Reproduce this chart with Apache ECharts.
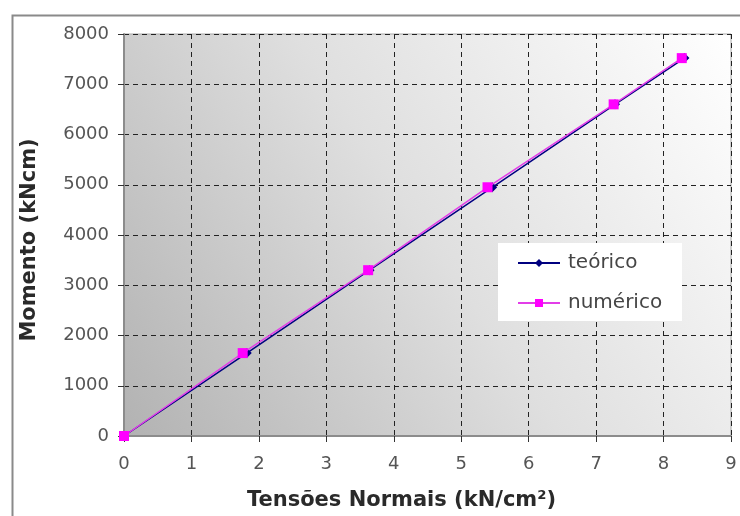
<!DOCTYPE html>
<html>
<head>
<meta charset="utf-8">
<script src="https://cdn.jsdelivr.net/npm/echarts@6/dist/echarts.min.js"></script>
<style>
  html, body { margin: 0; padding: 0; background: #ffffff; }
  #chart { width: 740px; height: 516px; }
</style>
</head>
<body>
<div id="chart"></div>
<script>
// Tensão normal (kN/cm²) e momento (kNcm)
const teoricoX = [0, 1.82, 3.64, 5.46, 7.28, 8.31];
const teoricoY = [0, 1650, 3300, 4950, 6600, 7520];
const numericoX = [0, 1.76, 3.62, 5.39, 7.26, 8.27];
const numericoY = [0, 1650, 3300, 4950, 6600, 7520];

const seriesNames = ['teórico', 'numérico'];
const xAxisTitle = 'Tensões Normais (kN/cm²)';
const yAxisTitle = 'Momento (kNcm)';

const pairs = (xs, ys) => xs.map((x, i) => [x, ys[i]]);

const chart = echarts.init(document.getElementById('chart'), null, { renderer: 'canvas' });

const FONT = 'DejaVu Sans, Verdana, sans-serif';
const labelFont = { fontFamily: FONT, fontSize: 18, color: '#555555' };
const titleFont = { fontFamily: FONT, fontSize: 21, fontWeight: 'bold', color: '#2a2a2a' };

chart.setOption({
  animation: false,
  backgroundColor: '#ffffff',
  graphic: [
    {
      type: 'rect',
      shape: { x: 12.5, y: 15.5, width: 740, height: 520 },
      style: { fill: 'none', stroke: '#8a8a8a', lineWidth: 2 },
      silent: true
    },
    {
      // legend frame
      type: 'rect',
      z: 10,
      shape: { x: 498, y: 243, width: 184, height: 78 },
      style: { fill: '#ffffff', stroke: null },
      silent: true
    }
  ],
  grid: {
    left: 124, right: 9, top: 34, bottom: 79,
    show: true,
    borderColor: '#a8a8a8',
    borderWidth: 1,
    backgroundColor: new echarts.graphic.LinearGradient(0, 1, 1, 0, [
      { offset: 0, color: '#b2b2b2' },
      { offset: 0.5, color: '#dfdfdf' },
      { offset: 1, color: '#ffffff' }
    ])
  },
  legend: {
    orient: 'vertical',
    left: 517, top: 243,
    padding: [10, 0, 10, 0],
    itemGap: 20,
    itemWidth: 42, itemHeight: 10,
    z: 20,
    textStyle: { fontFamily: FONT, fontSize: 20, lineHeight: 20, color: '#454545', padding: [0, 0, 0, 3] },
    data: seriesNames
  },
  xAxis: {
    type: 'value',
    min: 0, max: 9, interval: 1,
    name: xAxisTitle,
    nameLocation: 'middle',
    nameGap: 54,
    nameTextStyle: Object.assign({ padding: [0, 52, 0, 0] }, titleFont),
    axisLine: { show: true, onZero: false, lineStyle: { color: '#8c8c8c', width: 2 } },
    axisTick: { show: true, length: 6, lineStyle: { color: '#333333' } },
    axisLabel: Object.assign({ margin: 19 }, labelFont),
    splitLine: { show: true, lineStyle: { color: '#222222', type: [5, 4], width: 1 } }
  },
  yAxis: {
    type: 'value',
    min: 0, max: 8000, interval: 1000,
    name: yAxisTitle,
    nameLocation: 'middle',
    nameGap: 84,
    nameTextStyle: Object.assign({ padding: [0, 10, 0, 0] }, titleFont),
    axisLine: { show: true, onZero: false, lineStyle: { color: '#8c8c8c', width: 2 } },
    axisTick: { show: true, length: 6, lineStyle: { color: '#333333' } },
    axisLabel: Object.assign({ margin: 15, formatter: v => String(v) }, labelFont),
    splitLine: { show: true, lineStyle: { color: '#222222', type: [5, 4], width: 1 } }
  },
  series: [
    {
      name: seriesNames[0],
      type: 'line',
      data: pairs(teoricoX, teoricoY),
      symbol: 'diamond',
      symbolSize: 10,
      itemStyle: { color: '#000080' },
      lineStyle: { color: '#000080', width: 1.5 },
      z: 2
    },
    {
      name: seriesNames[1],
      type: 'line',
      data: pairs(numericoX, numericoY),
      symbol: 'rect',
      symbolSize: 10,
      itemStyle: { color: '#ff00ff' },
      lineStyle: { color: '#e23de8', width: 1.5 },
      z: 3
    }
  ]
});
</script>
</body>
</html>
